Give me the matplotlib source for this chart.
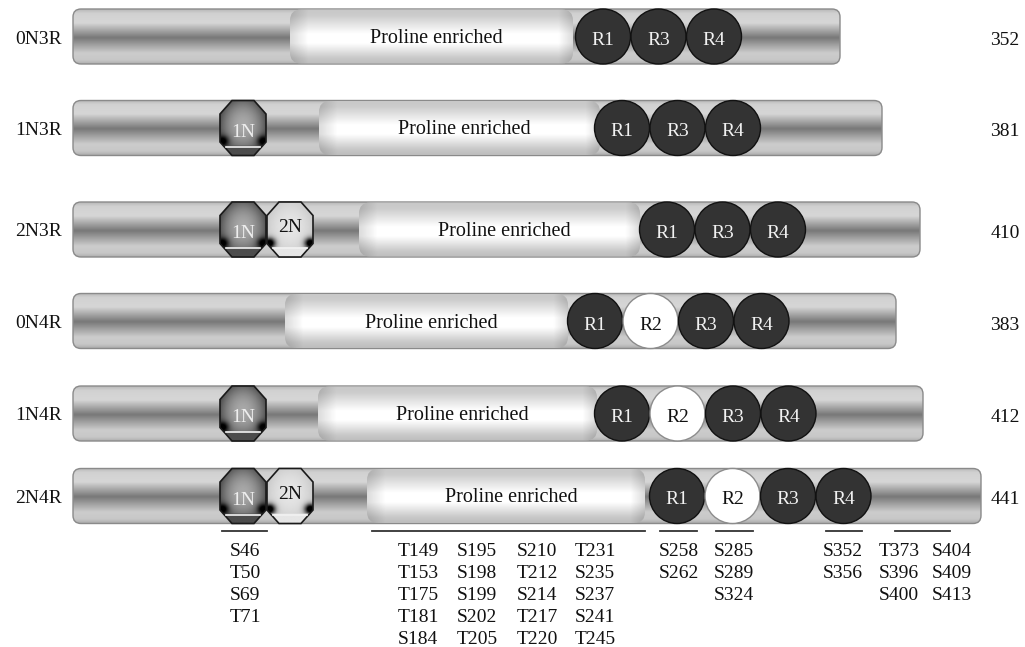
import numpy as np
import matplotlib.pyplot as plt
from matplotlib.patches import FancyBboxPatch, Circle, Polygon

# ----------- Data -----------

isoforms = ["0N3R", "1N3R", "2N3R", "0N4R", "1N4R", "2N4R"]
lengths = [352, 381, 410, 383, 412, 441]
n_inserts = [0, 1, 2, 0, 1, 2]
repeats = [["R1", "R3", "R4"]] * 3 + [["R1", "R2", "R3", "R4"]] * 3

# phosphorylation sites, grouped under the 2N4R bar (each group: list of columns)
site_groups = [
    [["S46", "T50", "S69", "T71"]],
    [["T149", "T153", "T175", "T181", "S184"],
     ["S195", "S198", "S199", "S202", "T205"],
     ["S210", "T212", "S214", "T217", "T220"],
     ["T231", "S235", "S237", "S241", "T245"]],
    [["S258", "S262"]],
    [["S285", "S289", "S324"]],
    [["S352", "S356"]],
    [["T373", "S396", "S400"], ["S404", "S409", "S413"]],
]

# ----------- Layout (pixel units) -----------

W, H = 1025, 647
row_y = [36.5, 128, 229.5, 321, 413.5, 496]
half_h = 27.5
bar_x0 = 73
bar_x1 = [840, 882, 920, 896, 923, 981]
prol_x0 = [290, 319, 359, 285, 318, 367]
prol_x1 = [573, 600, 640, 568, 597, 645]
r1_x = [603, 622, 667, 595, 622, 677]
rep_dx = 55.5
n_x = [243, 290]
group_lines = [(222, 267), (372, 645), (660, 697), (716, 753), (826, 862), (895, 950)]
group_cols = [[245], [418, 477, 537, 595], [679], [734], [843], [899, 952]]
line_y = 531
site_base = 556
site_dy = 22

FONT = ["Liberation Serif", "DejaVu Serif"]
FS = 14

fig = plt.figure(figsize=(W / 100, H / 100), dpi=100)
ax = fig.add_axes([0, 0, 1, 1])
ax.axis("off")


def label(x, y, s, color="#111111", ha="center", size=FS, z=8):
    ax.text(x, y, s, ha=ha, va="baseline", fontsize=size, family=FONT, color=color, zorder=z)


def grad_image(arr, x0, x1, y0, y1, clip, z):
    im = ax.imshow(arr, cmap="gray", vmin=0, vmax=1, extent=(x0, x1, y1, y0),
                   origin="upper", aspect="auto", interpolation="bilinear", zorder=z)
    im.set_clip_path(clip)


t = np.linspace(0, 1, 200)
bar_prof = np.interp(t, [0, 0.08, 0.25, 0.52, 0.8, 0.93, 1], [0.72, 0.82, 0.84, 0.47, 0.80, 0.78, 0.68])
prol_prof = np.interp(t, [0, 0.12, 0.45, 0.62, 0.9, 1], [0.78, 0.80, 1.0, 1.0, 0.78, 0.74])


def octagon(cx, cy, a=23, b=27.5):
    ca, cb = 11, 14
    pts = [(-ca, -b), (ca, -b), (a, -cb), (a, cb), (ca, b), (-ca, b), (-a, cb), (-a, -cb)]
    return [(cx + px, cy + py) for px, py in pts]


def draw_n(cx, cy, text, dark):
    poly = Polygon(octagon(cx, cy), closed=True, fc="none", ec="#1a1a1a", lw=1.2, zorder=6)
    ax.add_patch(poly)
    X, Y = np.meshgrid(np.linspace(-1, 1, 80), np.linspace(-1, 1, 100))
    r2 = X ** 2 + (Y + 0.1) ** 2
    if dark:
        v = 0.66 - 0.32 * r2
        below = 0.30
    else:
        v = 0.90 - 0.10 * r2
        below = 0.90
    blob = np.exp(-(((np.abs(X) - 0.9) ** 2) / 0.06 + ((Y - 0.5) ** 2) / 0.035))
    v = v * (1 - np.clip(1.3 * blob, 0, 1))
    v = np.where(Y > 0.66, below, v)
    grad_image(v, cx - 23, cx + 23, cy - 27.5, cy + 27.5, poly, 5)
    ax.plot([cx - 17, cx + 17], [cy + 18.5, cy + 18.5], color="#f2f2f2", lw=1.2, zorder=7)
    if dark:
        label(cx, cy + 9, text, color="#eeeeee")
    else:
        label(cx, cy + 3, text, color="#111111")


for i, name in enumerate(isoforms):
    cy = row_y[i]
    y0, y1 = cy - half_h, cy + half_h

    # full-length bar
    bar = FancyBboxPatch((bar_x0, y0), bar_x1[i] - bar_x0, 2 * half_h,
                         boxstyle="round,pad=0,rounding_size=8",
                         fc="none", ec="#8a8a8a", lw=1.0, zorder=2)
    ax.add_patch(bar)
    grad_image(bar_prof[:, None].repeat(2, axis=1), bar_x0, bar_x1[i], y0, y1, bar, 1)

    # proline enriched region
    px0, px1 = prol_x0[i], prol_x1[i]
    prol = FancyBboxPatch((px0, y0 + 0.5), px1 - px0, 2 * half_h - 1,
                          boxstyle="round,pad=0,rounding_size=11",
                          fc="none", ec="none", zorder=3)
    ax.add_patch(prol)
    xs = np.linspace(0, px1 - px0, 300)
    hfac = np.clip(np.minimum(xs / 18.0, (px1 - px0 - xs) / 14.0), 0, 1)
    hfac = 0.86 + 0.14 * hfac
    grad_image(prol_prof[:, None] * hfac[None, :], px0, px1, y0, y1, prol, 3)
    label((px0 + px1) / 2 + 5, cy + 6.5, "Proline enriched", size=FS + 0.5, z=4)

    # N-terminal inserts
    for k in range(n_inserts[i]):
        draw_n(n_x[k], cy, f"{k + 1}N", dark=(k == 0))

    # microtubule-binding repeats
    for j, rep in enumerate(repeats[i]):
        cx = r1_x[i] + j * rep_dx
        white = rep == "R2"
        ax.add_patch(Circle((cx, cy), 27.5, fc="white" if white else "#333333",
                            ec="#8c8c8c" if white else "#111111", lw=1.0, zorder=5))
        label(cx, cy + 8.5, rep, color="#111111" if white else "#f2f2f2", z=6)

    label(62, cy + 7, name, ha="right")
    label(1005, cy + 8.5, str(lengths[i]))

# phosphorylation site groups
for g, cols in enumerate(site_groups):
    lx0, lx1 = group_lines[g]
    ax.plot([lx0, lx1], [line_y, line_y], color="#333333", lw=1.3)
    for c, col in enumerate(cols):
        for k, site in enumerate(col):
            label(group_cols[g][c], site_base + k * site_dy, site)

ax.set_xlim(0, W)
ax.set_ylim(H, 0)
fig.savefig("out.png", dpi=100)
